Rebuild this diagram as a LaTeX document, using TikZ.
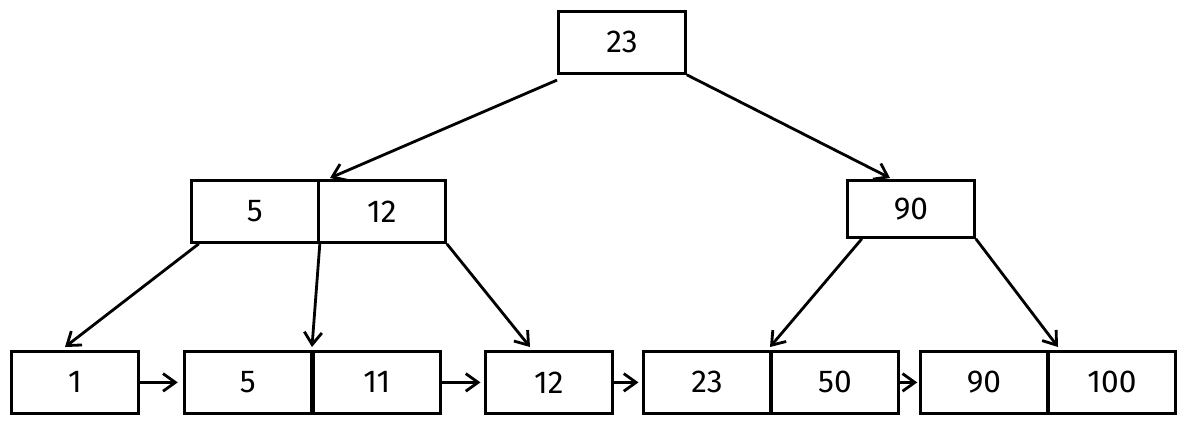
\documentclass[tikz,border=0pt]{standalone}
\usepackage{fontspec}
\setmainfont{Fira Sans}
\usetikzlibrary{arrows.meta}
\begin{document}
\begin{tikzpicture}[x=0.02cm,y=-0.02cm,
  cell/.style={draw,line width=1.6pt,minimum width=127*0.02cm,minimum height=62*0.02cm,inner sep=0,font=\fontsize{18}{18}\selectfont,anchor=north west},
  arr/.style={line width=1.6pt,-{Straight Barb[length=7pt,width=10pt]}}]
\useasboundingbox (0,0) rectangle (1185,423);
\node[cell] (r) at (557,10) {23};
\node[cell] (a1) at (190,179) {5};
\node[cell] (a2) at (317,179) {12};
\node[cell,minimum height=57*0.02cm] (b) at (846,179) {90};
\node[cell] (l1) at (10,350) {1};
\node[cell] (l2) at (183,350) {5};
\node[cell] (l3) at (312,350) {11};
\node[cell] (l4) at (484,350) {12};
\node[cell] (l5) at (642,350) {23};
\node[cell] (l6) at (770,350) {50};
\node[cell] (l7) at (919,350) {90};
\node[cell] (l8) at (1047,350) {100};
\coordinate (t1) at (330,178);
\coordinate (t2) at (890,178);
\coordinate (t3) at (65,347);
\coordinate (t4) at (312,347);
\coordinate (t5) at (530,347);
\coordinate (t6) at (770,347);
\coordinate (t7) at (1058,347);
\draw[arr] ([yshift=-3]r.south west) -- (t1);
\draw[arr] (r.south east) -- (t2);
\draw[arr] ([xshift=5]a1.south west) -- (t3);
\draw[arr] (a1.south east) -- (t4);
\draw[arr] (a2.south east) -- (t5);
\draw[arr] ([xshift=9]b.south west) -- (t6);
\draw[arr] (b.south east) -- (t7);
\draw[arr] (l1.east) -- ([xshift=-3]l2.west);
\draw[arr] (l3.east) -- ([xshift=-2]l4.west);
\draw[arr] (l4.east) -- ([xshift=-2]l5.west);
\draw[arr] (l6.east) -- ([xshift=-1]l7.west);
\end{tikzpicture}
\end{document}
